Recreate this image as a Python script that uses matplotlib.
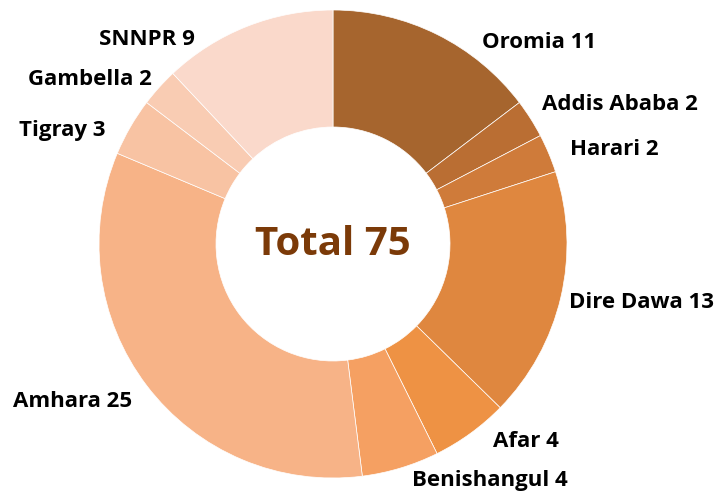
import matplotlib
matplotlib.use("Agg")
import matplotlib.pyplot as plt

regions = ["Oromia", "Addis Ababa", "Harari", "Dire Dawa", "Afar",
           "Benishangul", "Amhara", "Tigray", "Gambella", "SNNPR"]
counts = [11, 2, 2, 13, 4, 4, 25, 3, 2, 9]
colors = ["#A6652E", "#BA6E33", "#CF7B3A", "#DF873F", "#EE9244",
          "#F5A062", "#F7B387", "#F8C3A3", "#F9CCB3", "#FAD9CB"]

# label anchor points (pie radius = 1), and alignment
label_pos = [(0.637, 0.863, "left"), (0.893, 0.598, "left"), (1.013, 0.402, "left"),
             (1.009, -0.252, "left"), (0.684, -0.846, "left"), (0.338, -1.009, "left"),
             (-0.859, -0.675, "right"), (-0.974, 0.487, "right"),
             (-0.774, 0.701, "right"), (-0.590, 0.872, "right")]

fig = plt.figure(figsize=(7.2, 4.98), dpi=100)
ax = fig.add_axes([0, 0, 1, 1])
ax.pie(counts, colors=colors, startangle=90, counterclock=False,
       radius=1, wedgeprops=dict(width=0.5, edgecolor="white", linewidth=0.5))

for name, n, (x, y, ha) in zip(regions, counts, label_pos):
    ax.text(x, y, f"{name} {n}", ha=ha, va="center", fontsize=16,
            fontweight="bold", family="Open Sans", color="black")

ax.text(0, 0, f"Total {sum(counts)}", ha="center", va="center", fontsize=29,
        fontweight="bold", family="Open Sans", color="#7B3A08")

ax.set_xlim(-333 / 234, (720 - 333) / 234)
ax.set_ylim(-(498 - 244) / 234, 244 / 234)
ax.set_aspect("auto")
ax.axis("off")
fig.savefig("out.png", dpi=100)
